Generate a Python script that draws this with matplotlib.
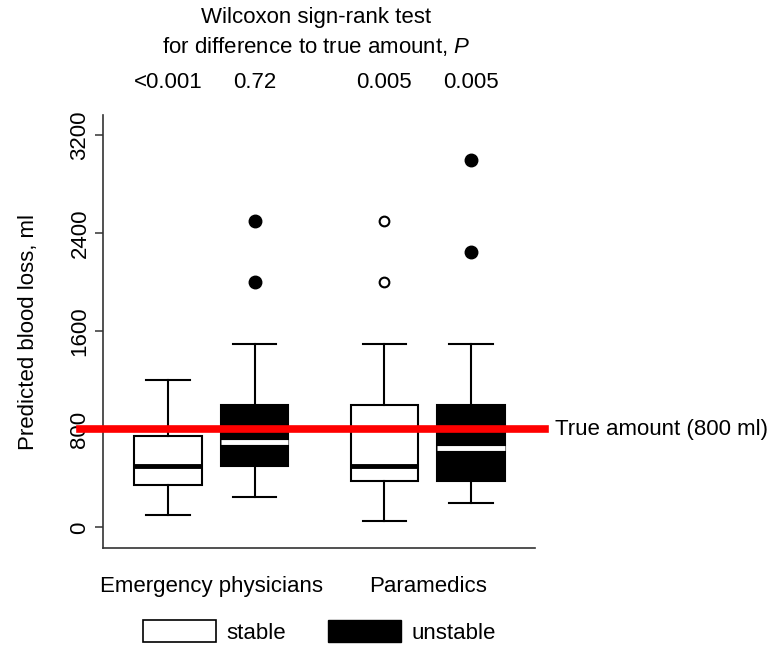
import numpy as np
import matplotlib.pyplot as plt
from matplotlib.patches import Patch
import matplotlib.transforms as mtransforms

plt.rcParams['font.family'] = ['Liberation Sans', 'DejaVu Sans']
plt.rcParams['mathtext.fontset'] = 'custom'
plt.rcParams['mathtext.it'] = 'Liberation Sans:italic'
plt.rcParams['mathtext.rm'] = 'Liberation Sans'

# data (ml)
labels = ['EP stable', 'EP unstable', 'P stable', 'P unstable']
whislo = [100, 250, 50, 200]
q1 = [350, 500, 375, 375]
med = [500, 700, 500, 650]
q3 = [750, 1000, 1000, 1000]
whishi = [1200, 1500, 1500, 1500]
fliers = [[], [2000, 2500], [2000, 2500], [2250, 3000]]
unstable = [False, True, False, True]
pvals = ['<0.001', '0.72', '0.005', '0.005']
groups = ['Emergency physicians', 'Paramedics']
true_amount = 800

positions = [1, 2, 3.5, 4.5]

stats = []
for i in range(4):
    stats.append(dict(label=labels[i], whislo=whislo[i], q1=q1[i], med=med[i],
                      q3=q3[i], whishi=whishi[i], fliers=fliers[i]))

fig = plt.figure(figsize=(7.76, 6.46), dpi=100)
ax = fig.add_axes([103/776, 1-548/646, 432/776, 433/646])

bp = ax.bxp(stats, positions=positions, widths=0.78, patch_artist=True,
            capwidths=0.5, manage_ticks=False,
            boxprops=dict(linewidth=1.5, edgecolor='black'),
            whiskerprops=dict(linewidth=1.5, color='black'),
            capprops=dict(linewidth=1.5, color='black'),
            medianprops=dict(linewidth=3.5))

for i in range(4):
    if unstable[i]:
        bp['boxes'][i].set_facecolor('black')
        bp['medians'][i].set_color('white')
        bp['fliers'][i].set(marker='o', markersize=9, markerfacecolor='black',
                            markeredgecolor='black', linestyle='none')
    else:
        bp['boxes'][i].set_facecolor('white')
        bp['medians'][i].set_color('black')
        bp['fliers'][i].set(marker='o', markersize=7, markerfacecolor='white',
                            markeredgecolor='black', markeredgewidth=1.5,
                            linestyle='none')

# reference line for the true amount
ax.axhline(true_amount, xmin=-0.053, xmax=1.023, color='#ff0000', lw=5.5,
           clip_on=False, zorder=5)
trans = mtransforms.blended_transform_factory(ax.transAxes, ax.transData)
ax.text(1.046, true_amount, 'True amount (800 ml)', transform=trans,
        ha='left', va='center', fontsize=16)

ax.set_xlim(0.249, 5.24)
ax.set_ylim(-168, 3367)
ax.set_yticks([0, 800, 1600, 2400, 3200])
ax.set_yticklabels(['0', '800', '1600', '2400', '3200'], rotation=90,
                   va='center', fontsize=16)
ax.tick_params(axis='y', length=6, width=1.1, pad=3, color='#333333')
ax.set_xticks([1.5, 4.0])
ax.set_xticklabels(groups, fontsize=16)
ax.tick_params(axis='x', length=0, pad=20)
ax.set_ylabel('Predicted blood loss, ml', fontsize=16, labelpad=22)

for s in ['top', 'right']:
    ax.spines[s].set_visible(False)
for s in ['left', 'bottom']:
    ax.spines[s].set_linewidth(1.2)
    ax.spines[s].set_color('#333333')

# p-values above each box
trans2 = mtransforms.blended_transform_factory(ax.transData, ax.transAxes)
for p, v in zip(positions, pvals):
    ax.text(p, 1.076, v, transform=trans2, ha='center', va='center', fontsize=16)

fig.text(316/776, 1-17/646, 'Wilcoxon sign-rank test', ha='center',
         va='center', fontsize=16)
fig.text(316/776, 1-47/646, 'for difference to true amount, $\\it{P}$',
         ha='center', va='center', fontsize=16)

handles = [Patch(facecolor='white', edgecolor='black', linewidth=1.2),
           Patch(facecolor='black', edgecolor='black')]
fig.legend(handles, ['stable', 'unstable'], ncol=2, loc='center',
           bbox_to_anchor=(319/776, 1-632/646), frameon=False, fontsize=16,
           handlelength=3.3, handleheight=1.1, handletextpad=0.45,
           columnspacing=1.9)

fig.savefig('out.png', dpi=100)
